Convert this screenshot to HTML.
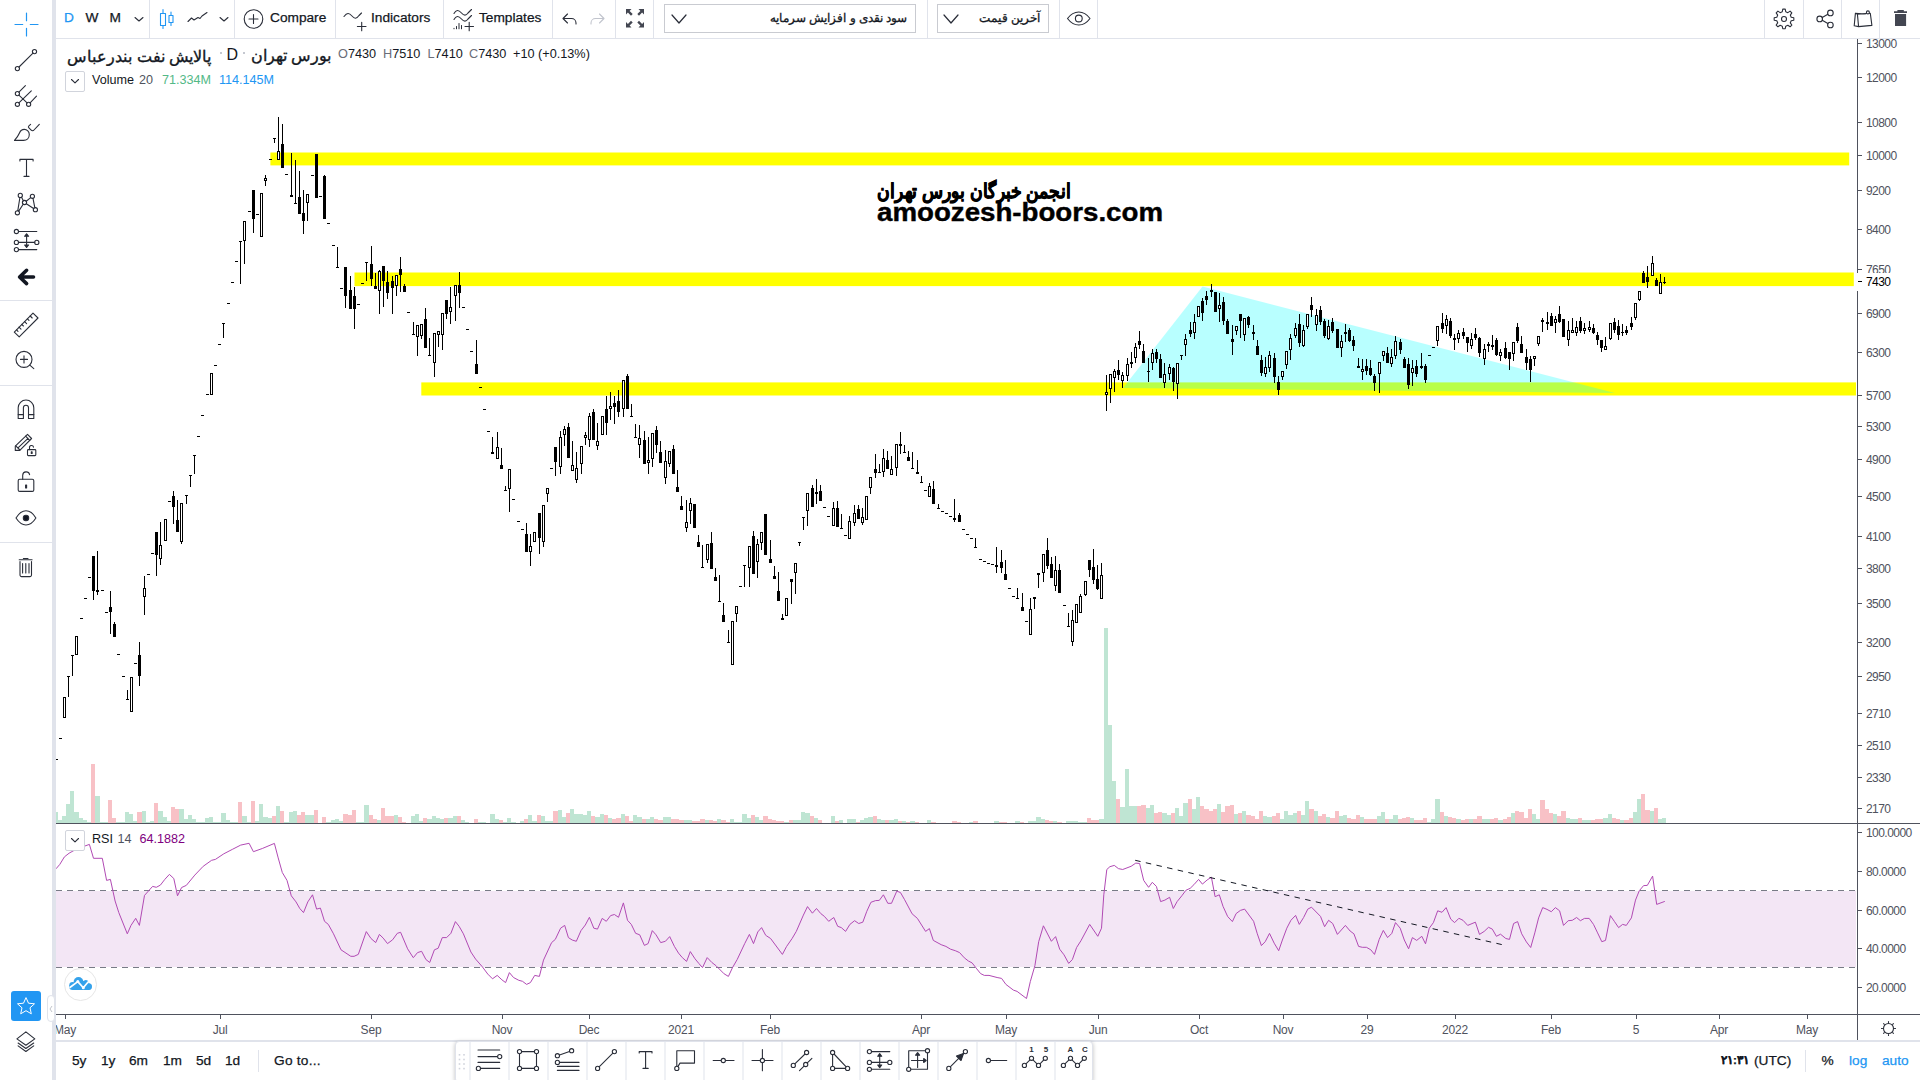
<!DOCTYPE html>
<html lang="en">
<head>
<meta charset="utf-8">
<title>Chart</title>
<style>
*{box-sizing:border-box;margin:0;padding:0}
html,body{width:1920px;height:1080px;overflow:hidden;background:#fff}
body{font-family:"Liberation Sans",sans-serif;color:#131722;position:relative}
.abs{position:absolute}
.t{position:absolute;white-space:nowrap;line-height:1}
#left{left:0;top:0;width:52px;height:1080px;background:#fff}
#ldiv{left:52px;top:0;width:4px;height:1080px;background:#e0e3eb}
#top{left:56px;top:0;width:1864px;height:38px;background:#fff}
#topb{left:56px;top:38px;width:1864px;height:1px;background:#e0e3eb}
.vsep{position:absolute;top:0;width:1px;height:38px;background:#e0e3eb}
.hsep{position:absolute;left:0;width:52px;height:1px;background:#e0e3eb}
.tb{font-size:13.7px;color:#131722;top:11.4px;-webkit-text-stroke:0.25px}
.lg{font-size:12.7px;color:#131722;top:48px}
.lg .k{color:#6a6d78}
.lg2{font-size:12.6px;color:#131722}
.sel{position:absolute;top:4px;height:29px;border:1px solid #c9cbd1;background:#fff}
.ax{font-size:12px;color:#4f525d;letter-spacing:-0.55px}
.ptick{position:absolute;left:1858px;width:4px;height:1px;background:#4f525d}
.ttick{position:absolute;top:1015px;width:1px;height:4px;background:#4f525d}
.tl{position:absolute;top:1024px;font-size:12px;color:#4f525d;transform:translateX(-50%);white-space:nowrap;line-height:1;letter-spacing:-0.2px}
.bt{font-size:13.7px;color:#131722;top:1054.2px;-webkit-text-stroke:0.25px}
svg{position:absolute;overflow:visible}
.ic{fill:none;stroke:#2a2e39;stroke-width:1.1;stroke-linecap:round;stroke-linejoin:round}
</style>
</head>
<body>
<!-- chart panes -->
<svg id="chart" class="abs" style="left:0;top:0" width="1920" height="1080" viewBox="0 0 1920 1080" shape-rendering="crispEdges">
<rect x="56" y="891" width="1800" height="76" fill="#f3e6f5"/>
<rect x="270.4" y="152.5" width="1578.8" height="12.9" fill="#ffff00" shape-rendering="geometricPrecision"/>
<rect x="354.5" y="272.5" width="1499.3" height="13.6" fill="#ffff00" shape-rendering="geometricPrecision"/>
<rect x="421.3" y="382.4" width="1434.7" height="13.1" fill="#ffff00" shape-rendering="geometricPrecision"/>
<polygon points="1202.5,286.5 1123,388 1615,393" fill="rgba(0,255,255,0.28)" shape-rendering="geometricPrecision"/>
<path d="M56 812h2v11h-2zM58 820h4v3h-4zM62 816h4v7h-4zM66 804h4v19h-4zM70 791h4v32h-4zM74 812h5v11h-5zM79 818h4v5h-4zM83 820h4v3h-4zM87 822h4v1h-4zM95 796h5v27h-5zM100 822h4v1h-4zM104 822h4v1h-4zM116 822h5v1h-5zM121 822h4v1h-4zM125 812h4v11h-4zM129 814h4v9h-4zM133 821h4v2h-4zM142 811h4v12h-4zM146 822h4v1h-4zM150 821h4v2h-4zM158 811h5v12h-5zM163 817h4v6h-4zM167 821h4v2h-4zM179 809h5v14h-5zM184 819h4v4h-4zM188 815h4v8h-4zM192 819h4v4h-4zM196 822h4v1h-4zM200 822h5v1h-5zM205 818h4v5h-4zM209 817h4v6h-4zM213 822h4v1h-4zM217 822h4v1h-4zM221 813h5v10h-5zM226 820h4v3h-4zM230 822h4v1h-4zM234 822h4v1h-4zM242 816h5v7h-5zM247 822h4v1h-4zM255 821h4v2h-4zM259 804h4v19h-4zM263 817h5v6h-5zM268 818h4v5h-4zM276 806h4v17h-4zM284 822h5v1h-5zM289 812h4v11h-4zM293 811h4v12h-4zM305 815h5v8h-5zM310 815h4v8h-4zM326 822h5v1h-5zM331 820h4v3h-4zM335 819h4v4h-4zM339 821h4v2h-4zM356 822h4v1h-4zM360 822h4v1h-4zM364 805h5v18h-5zM377 820h4v3h-4zM394 815h4v8h-4zM411 816h4v7h-4zM415 814h4v9h-4zM419 821h4v2h-4zM427 819h5v4h-5zM432 816h4v7h-4zM436 818h4v5h-4zM440 819h4v4h-4zM448 818h5v5h-5zM453 816h4v7h-4zM461 820h4v3h-4zM465 822h4v1h-4zM478 822h4v1h-4zM482 822h4v1h-4zM490 814h5v9h-5zM495 819h4v4h-4zM503 822h4v1h-4zM507 818h4v5h-4zM511 822h5v1h-5zM520 821h4v2h-4zM528 815h4v8h-4zM532 821h5v2h-5zM541 816h4v7h-4zM545 821h4v2h-4zM549 821h4v2h-4zM558 810h4v13h-4zM562 817h4v6h-4zM570 809h4v14h-4zM574 814h5v9h-5zM579 814h4v9h-4zM583 815h4v8h-4zM587 811h4v12h-4zM595 817h5v6h-5zM600 814h4v9h-4zM608 818h4v5h-4zM621 814h4v9h-4zM633 815h4v8h-4zM637 817h5v6h-5zM646 819h4v4h-4zM650 817h4v6h-4zM663 817h4v6h-4zM667 817h4v6h-4zM684 820h4v3h-4zM688 820h4v3h-4zM705 820h4v3h-4zM717 819h4v4h-4zM730 819h4v4h-4zM734 822h4v1h-4zM738 822h4v1h-4zM742 814h5v9h-5zM747 818h4v5h-4zM755 817h4v6h-4zM759 820h4v3h-4zM784 822h5v1h-5zM793 820h4v3h-4zM797 820h4v3h-4zM801 812h4v11h-4zM805 813h5v10h-5zM814 818h4v5h-4zM831 816h4v7h-4zM839 820h4v3h-4zM847 819h5v4h-5zM852 819h4v4h-4zM860 820h4v3h-4zM864 818h4v5h-4zM868 817h5v6h-5zM877 819h4v4h-4zM881 820h4v3h-4zM889 820h5v3h-5zM894 819h4v4h-4zM902 821h4v2h-4zM910 821h5v2h-5zM927 820h4v3h-4zM969 822h4v1h-4zM994 821h5v2h-5zM1015 821h5v2h-5zM1028 821h4v2h-4zM1032 821h4v2h-4zM1036 817h5v6h-5zM1041 819h4v4h-4zM1053 821h4v2h-4zM1066 821h4v2h-4zM1070 821h4v2h-4zM1074 821h4v2h-4zM1078 822h5v1h-5zM1083 822h4v1h-4zM1099 819h5v4h-5zM1104 628h4v195h-4zM1108 725h4v98h-4zM1112 781h4v42h-4zM1120 807h5v16h-5zM1125 769h4v54h-4zM1129 806h4v17h-4zM1133 806h4v17h-4zM1146 808h4v15h-4zM1150 805h4v18h-4zM1162 813h5v10h-5zM1167 815h4v8h-4zM1175 808h4v15h-4zM1179 816h4v7h-4zM1183 803h5v20h-5zM1192 809h4v14h-4zM1196 797h4v26h-4zM1217 804h4v19h-4zM1234 814h4v9h-4zM1242 811h4v12h-4zM1263 816h4v7h-4zM1267 817h5v6h-5zM1280 819h4v4h-4zM1284 811h4v12h-4zM1288 815h5v8h-5zM1293 813h4v10h-4zM1301 815h4v8h-4zM1305 801h4v22h-4zM1314 811h4v12h-4zM1326 817h4v6h-4zM1339 816h4v7h-4zM1343 815h4v8h-4zM1360 817h4v6h-4zM1377 816h4v7h-4zM1381 812h4v11h-4zM1389 819h4v4h-4zM1393 815h5v8h-5zM1410 818h4v5h-4zM1427 822h4v1h-4zM1431 819h4v4h-4zM1435 799h5v24h-5zM1444 816h4v7h-4zM1456 819h5v4h-5zM1469 819h4v4h-4zM1482 819h4v4h-4zM1486 819h4v4h-4zM1498 820h5v3h-5zM1511 813h4v10h-4zM1532 814h4v9h-4zM1536 819h4v4h-4zM1553 814h4v9h-4zM1566 818h4v5h-4zM1570 819h4v4h-4zM1574 819h4v4h-4zM1582 820h5v3h-5zM1587 820h4v3h-4zM1603 818h5v5h-5zM1608 814h4v9h-4zM1620 820h4v3h-4zM1633 812h4v11h-4zM1637 799h4v24h-4zM1650 811h4v12h-4zM1658 819h4v4h-4zM1662 818h4v5h-4z" fill="#bfe5d3"/>
<path d="M91 764h4v59h-4zM108 800h4v23h-4zM112 818h4v5h-4zM137 812h5v11h-5zM154 803h4v20h-4zM171 807h4v16h-4zM175 809h4v14h-4zM238 802h4v21h-4zM251 801h4v22h-4zM272 816h4v7h-4zM280 811h4v12h-4zM297 815h4v8h-4zM301 812h4v11h-4zM314 810h4v13h-4zM322 817h4v6h-4zM343 814h5v9h-5zM348 815h4v8h-4zM352 810h4v13h-4zM369 815h4v8h-4zM373 819h4v4h-4zM381 808h4v15h-4zM385 816h5v7h-5zM390 816h4v7h-4zM398 817h4v6h-4zM402 822h4v1h-4zM423 818h4v5h-4zM444 818h4v5h-4zM457 816h4v7h-4zM474 819h4v4h-4zM499 820h4v3h-4zM524 819h4v4h-4zM537 815h4v8h-4zM553 811h5v12h-5zM566 813h4v10h-4zM591 816h4v7h-4zM604 815h4v8h-4zM612 819h4v4h-4zM616 818h5v5h-5zM625 816h4v7h-4zM629 821h4v2h-4zM642 819h4v4h-4zM654 819h4v4h-4zM658 820h5v3h-5zM671 819h4v4h-4zM675 819h4v4h-4zM679 820h5v3h-5zM692 821h4v2h-4zM696 821h4v2h-4zM700 819h5v4h-5zM709 820h4v3h-4zM713 821h4v2h-4zM721 820h5v3h-5zM726 822h4v1h-4zM751 815h4v8h-4zM763 816h5v7h-5zM768 819h4v4h-4zM772 820h4v3h-4zM776 821h4v2h-4zM780 821h4v2h-4zM789 820h4v3h-4zM810 816h4v7h-4zM818 820h4v3h-4zM835 821h4v2h-4zM856 822h4v1h-4zM873 816h4v7h-4zM885 820h4v3h-4zM898 821h4v2h-4zM906 822h4v1h-4zM915 822h4v1h-4zM931 822h5v1h-5zM952 821h5v2h-5zM957 822h4v1h-4zM973 821h5v2h-5zM999 822h4v1h-4zM1003 822h4v1h-4zM1020 822h4v1h-4zM1045 820h4v3h-4zM1049 821h4v2h-4zM1057 822h5v1h-5zM1087 818h4v5h-4zM1091 820h4v3h-4zM1095 820h4v3h-4zM1116 799h4v24h-4zM1137 806h4v17h-4zM1141 805h5v18h-5zM1154 813h4v10h-4zM1158 812h4v11h-4zM1171 813h4v10h-4zM1188 799h4v24h-4zM1200 806h4v17h-4zM1204 809h5v14h-5zM1209 811h4v12h-4zM1213 809h4v14h-4zM1221 812h4v11h-4zM1225 806h5v17h-5zM1230 805h4v18h-4zM1238 813h4v10h-4zM1246 815h5v8h-5zM1251 816h4v7h-4zM1255 819h4v4h-4zM1259 811h4v12h-4zM1272 816h4v7h-4zM1276 813h4v10h-4zM1297 811h4v12h-4zM1309 809h5v14h-5zM1318 816h4v7h-4zM1322 814h4v9h-4zM1330 818h5v5h-5zM1335 811h4v12h-4zM1347 818h4v5h-4zM1351 819h5v4h-5zM1356 815h4v8h-4zM1364 819h4v4h-4zM1368 819h4v4h-4zM1372 819h5v4h-5zM1385 819h4v4h-4zM1398 819h4v4h-4zM1402 818h4v5h-4zM1406 817h4v6h-4zM1414 820h5v3h-5zM1419 820h4v3h-4zM1423 818h4v5h-4zM1440 812h4v11h-4zM1448 817h4v6h-4zM1452 818h4v5h-4zM1461 820h4v3h-4zM1465 819h4v4h-4zM1473 819h4v4h-4zM1477 816h5v7h-5zM1490 819h4v4h-4zM1494 818h4v5h-4zM1503 819h4v4h-4zM1507 817h4v6h-4zM1515 811h4v12h-4zM1519 812h5v11h-5zM1524 818h4v5h-4zM1528 809h4v14h-4zM1540 800h5v23h-5zM1545 809h4v14h-4zM1549 813h4v10h-4zM1557 816h4v7h-4zM1561 811h5v12h-5zM1578 818h4v5h-4zM1591 820h4v3h-4zM1595 819h4v4h-4zM1599 819h4v4h-4zM1612 818h4v5h-4zM1616 819h4v4h-4zM1624 820h5v3h-5zM1629 818h4v5h-4zM1641 794h4v29h-4zM1645 810h5v13h-5zM1654 808h4v15h-4z" fill="#f8c1c6"/>
<path d="M55 759h3v1h-3zM59 738h3v1h-3zM64 697h1v21h-1zM63 697h3v21h-3zM68 676h1v21h-1zM67 676h3v1h-3zM72 655h1v21h-1zM71 655h3v1h-3zM76 636h1v19h-1zM75 636h3v19h-3zM80 618h3v1h-3zM84 598h3v1h-3zM88 577h3v1h-3zM93 556h1v44h-1zM92 556h3v35h-3zM97 551h1v44h-1zM96 590h3v2h-3zM101 590h3v1h-3zM105 612h3v1h-3zM110 591h1v43h-1zM109 607h3v5h-3zM114 622h1v15h-1zM113 624h3v13h-3zM117 654h3v1h-3zM122 676h3v1h-3zM127 690h1v9h-1zM126 699h3v1h-3zM131 677h1v35h-1zM130 677h3v35h-3zM134 663h3v1h-3zM139 642h1v44h-1zM138 655h3v21h-3zM144 576h1v39h-1zM143 588h3v9h-3zM147 574h3v1h-3zM151 553h3v1h-3zM156 532h1v44h-1zM155 532h3v23h-3zM160 522h1v43h-1zM159 545h3v14h-3zM165 519h1v22h-1zM164 519h3v22h-3zM168 501h3v1h-3zM173 491h1v33h-1zM172 496h3v11h-3zM177 500h1v32h-1zM176 520h3v12h-3zM181 503h1v41h-1zM180 503h3v39h-3zM186 495h1v9h-1zM185 495h3v1h-3zM190 475h1v12h-1zM189 475h3v1h-3zM194 455h1v19h-1zM193 455h3v1h-3zM197 436h3v1h-3zM201 415h3v1h-3zM206 394h3v1h-3zM211 373h1v22h-1zM210 373h3v22h-3zM214 365h3v1h-3zM218 344h3v1h-3zM223 323h1v15h-1zM222 323h3v1h-3zM227 303h3v1h-3zM231 282h3v1h-3zM235 261h3v1h-3zM240 241h1v43h-1zM239 241h3v1h-3zM244 221h1v43h-1zM243 221h3v20h-3zM248 211h3v1h-3zM253 190h1v43h-1zM252 190h3v29h-3zM256 214h3v1h-3zM261 193h1v44h-1zM260 193h3v44h-3zM265 175h1v11h-1zM264 178h3v3h-3zM269 159h3v1h-3zM274 138h1v5h-1zM273 138h3v1h-3zM278 117h1v43h-1zM277 151h3v9h-3zM282 124h1v44h-1zM281 144h3v24h-3zM285 174h3v1h-3zM291 153h1v44h-1zM290 195h3v2h-3zM295 160h1v43h-1zM294 203h3v1h-3zM299 171h1v43h-1zM298 197h3v17h-3zM303 190h1v44h-1zM302 213h3v8h-3zM307 194h1v27h-1zM306 194h3v9h-3zM311 175h3v1h-3zM316 154h1v44h-1zM315 154h3v44h-3zM319 196h3v1h-3zM324 175h1v44h-1zM323 176h3v43h-3zM327 223h3v1h-3zM332 245h3v1h-3zM337 247h1v20h-1zM336 267h3v1h-3zM340 288h3v1h-3zM345 267h1v41h-1zM344 267h3v29h-3zM350 276h1v33h-1zM349 290h3v19h-3zM354 287h1v42h-1zM353 296h3v13h-3zM357 304h3v1h-3zM361 283h3v1h-3zM366 262h1v19h-1zM365 262h3v1h-3zM371 246h1v40h-1zM370 264h3v15h-3zM375 273h1v16h-1zM374 286h3v3h-3zM379 270h1v44h-1zM378 271h3v20h-3zM383 266h1v41h-1zM382 266h3v15h-3zM387 271h1v28h-1zM386 282h3v11h-3zM392 276h1v38h-1zM391 281h3v7h-3zM396 275h1v21h-1zM395 275h3v11h-3zM400 257h1v35h-1zM399 269h3v6h-3zM404 284h1v8h-1zM403 286h3v6h-3zM407 312h3v1h-3zM413 322h1v12h-1zM412 334h3v1h-3zM417 325h1v31h-1zM416 325h3v12h-3zM421 324h1v15h-1zM420 324h3v12h-3zM425 308h1v40h-1zM424 319h3v29h-3zM429 338h1v17h-1zM428 355h3v1h-3zM434 333h1v44h-1zM433 333h3v30h-3zM438 331h1v16h-1zM437 331h3v4h-3zM442 313h1v37h-1zM441 313h3v22h-3zM446 300h1v19h-1zM445 300h3v14h-3zM450 287h1v37h-1zM449 307h3v5h-3zM455 285h1v36h-1zM454 285h3v11h-3zM459 272h1v36h-1zM458 285h3v8h-3zM462 307h3v1h-3zM466 329h3v1h-3zM470 351h3v1h-3zM476 340h1v34h-1zM475 364h3v10h-3zM479 387h3v1h-3zM483 409h3v1h-3zM487 431h3v1h-3zM492 437h1v17h-1zM491 452h3v2h-3zM497 432h1v27h-1zM496 447h3v12h-3zM501 448h1v21h-1zM500 465h3v4h-3zM505 486h1v4h-1zM504 490h3v1h-3zM509 469h1v43h-1zM508 469h3v20h-3zM512 499h3v1h-3zM517 521h3v1h-3zM521 529h3v1h-3zM526 523h1v29h-1zM525 534h3v18h-3zM530 534h1v32h-1zM529 546h3v6h-3zM534 532h1v10h-1zM533 532h3v10h-3zM539 513h1v41h-1zM538 513h3v25h-3zM543 505h1v42h-1zM542 505h3v37h-3zM547 488h1v14h-1zM546 488h3v6h-3zM550 468h3v1h-3zM555 447h1v29h-1zM554 447h3v15h-3zM560 431h1v43h-1zM559 437h3v30h-3zM564 426h1v20h-1zM563 429h3v6h-3zM568 423h1v35h-1zM567 427h3v31h-3zM572 441h1v30h-1zM571 465h3v6h-3zM576 452h1v31h-1zM575 468h3v12h-3zM581 446h1v28h-1zM580 446h3v18h-3zM585 432h1v13h-1zM584 435h3v3h-3zM589 413h1v34h-1zM588 416h3v24h-3zM593 409h1v31h-1zM592 412h3v28h-3zM597 423h1v27h-1zM596 441h3v5h-3zM602 416h1v19h-1zM601 416h3v19h-3zM606 396h1v39h-1zM605 409h3v14h-3zM610 392h1v28h-1zM609 406h3v3h-3zM614 396h1v28h-1zM613 403h3v4h-3zM618 390h1v27h-1zM617 401h3v11h-3zM623 380h1v37h-1zM622 380h3v29h-3zM627 374h1v35h-1zM626 376h3v33h-3zM631 404h1v12h-1zM630 416h3v1h-3zM635 424h1v13h-1zM634 437h3v1h-3zM639 425h1v33h-1zM638 438h3v7h-3zM644 431h1v33h-1zM643 440h3v24h-3zM648 437h1v37h-1zM647 460h3v3h-3zM652 433h1v34h-1zM651 433h3v26h-3zM656 426h1v27h-1zM655 430h3v15h-3zM660 441h1v22h-1zM659 452h3v11h-3zM665 450h1v34h-1zM664 461h3v17h-3zM669 451h1v16h-1zM668 451h3v13h-3zM673 445h1v29h-1zM672 449h3v25h-3zM677 470h1v22h-1zM676 487h3v5h-3zM681 496h1v14h-1zM680 506h3v4h-3zM686 500h1v32h-1zM685 522h3v6h-3zM690 498h1v26h-1zM689 503h3v8h-3zM694 504h1v24h-1zM693 504h3v24h-3zM698 535h1v12h-1zM697 542h3v5h-3zM702 545h1v22h-1zM701 567h3v1h-3zM707 544h1v19h-1zM706 544h3v16h-3zM711 532h1v37h-1zM710 543h3v26h-3zM715 568h1v13h-1zM714 577h3v4h-3zM719 575h1v26h-1zM718 601h3v1h-3zM723 603h1v19h-1zM722 615h3v7h-3zM728 630h1v12h-1zM727 642h3v1h-3zM732 621h1v44h-1zM731 621h3v44h-3zM736 606h1v16h-1zM735 606h3v8h-3zM739 586h3v1h-3zM744 565h1v22h-1zM743 565h3v1h-3zM749 546h1v41h-1zM748 546h3v22h-3zM753 531h1v43h-1zM752 536h3v38h-3zM757 539h1v39h-1zM756 544h3v18h-3zM761 532h1v18h-1zM760 532h3v11h-3zM765 514h1v41h-1zM764 514h3v41h-3zM770 540h1v23h-1zM769 559h3v4h-3zM774 566h1v13h-1zM773 576h3v3h-3zM778 572h1v29h-1zM777 591h3v10h-3zM782 614h1v6h-1zM781 618h3v2h-3zM786 598h1v18h-1zM785 598h3v18h-3zM791 579h1v25h-1zM790 579h3v3h-3zM795 563h1v31h-1zM794 563h3v10h-3zM799 542h1v4h-1zM798 542h3v1h-3zM803 517h1v13h-1zM802 517h3v1h-3zM807 493h1v33h-1zM806 493h3v18h-3zM812 485h1v22h-1zM811 488h3v19h-3zM816 479h1v25h-1zM815 492h3v2h-3zM820 485h1v16h-1zM819 491h3v10h-3zM823 507h3v1h-3zM827 516h3v1h-3zM833 502h1v24h-1zM832 508h3v18h-3zM837 501h1v26h-1zM836 508h3v19h-3zM841 514h1v14h-1zM840 528h3v1h-3zM844 535h3v1h-3zM849 516h1v23h-1zM848 521h3v18h-3zM854 505h1v21h-1zM853 513h3v10h-3zM858 505h1v14h-1zM857 509h3v10h-3zM862 508h1v17h-1zM861 517h3v6h-3zM866 496h1v24h-1zM865 496h3v24h-3zM870 477h1v17h-1zM869 477h3v11h-3zM875 454h1v24h-1zM874 469h3v4h-3zM879 464h1v8h-1zM878 472h3v1h-3zM883 449h1v28h-1zM882 458h3v14h-3zM887 451h1v18h-1zM886 460h3v9h-3zM891 456h1v19h-1zM890 469h3v6h-3zM896 444h1v32h-1zM895 444h3v24h-3zM900 432h1v22h-1zM899 444h3v2h-3zM904 445h1v7h-1zM903 452h3v1h-3zM908 451h1v10h-1zM907 457h3v4h-3zM912 452h1v16h-1zM911 468h3v1h-3zM917 460h1v14h-1zM916 472h3v2h-3zM921 476h1v6h-1zM920 482h3v1h-3zM924 490h3v1h-3zM929 483h1v14h-1zM928 486h3v11h-3zM933 481h1v23h-1zM932 489h3v15h-3zM938 504h1v4h-1zM937 508h3v1h-3zM941 511h3v1h-3zM945 513h3v1h-3zM949 516h3v1h-3zM954 499h1v23h-1zM953 518h3v2h-3zM959 513h1v9h-1zM958 515h3v7h-3zM962 529h3v1h-3zM966 534h3v1h-3zM970 538h3v1h-3zM975 538h1v9h-1zM974 547h3v1h-3zM979 559h3v1h-3zM983 561h3v1h-3zM987 563h3v1h-3zM991 564h3v1h-3zM996 547h1v26h-1zM995 565h3v2h-3zM1001 550h1v23h-1zM1000 562h3v6h-3zM1005 560h1v20h-1zM1004 574h3v6h-3zM1008 588h3v1h-3zM1012 596h3v1h-3zM1017 588h1v10h-1zM1016 598h3v1h-3zM1022 593h1v18h-1zM1021 607h3v4h-3zM1025 621h3v1h-3zM1030 598h1v37h-1zM1029 609h3v26h-3zM1034 597h1v12h-1zM1033 597h3v2h-3zM1038 573h1v15h-1zM1037 573h3v2h-3zM1043 554h1v28h-1zM1042 554h3v19h-3zM1047 538h1v31h-1zM1046 550h3v16h-3zM1051 557h1v21h-1zM1050 564h3v14h-3zM1055 556h1v35h-1zM1054 570h3v16h-3zM1059 564h1v29h-1zM1058 570h3v23h-3zM1063 605h3v1h-3zM1068 613h1v13h-1zM1067 626h3v1h-3zM1072 610h1v36h-1zM1071 620h3v22h-3zM1076 604h1v19h-1zM1075 604h3v19h-3zM1080 594h1v19h-1zM1079 596h3v17h-3zM1085 581h1v15h-1zM1084 581h3v14h-3zM1089 560h1v17h-1zM1088 560h3v10h-3zM1093 549h1v35h-1zM1092 567h3v13h-3zM1097 565h1v25h-1zM1096 579h3v10h-3zM1101 563h1v36h-1zM1100 575h3v24h-3zM1106 375h1v36h-1zM1105 392h3v3h-3zM1110 374h1v29h-1zM1109 374h3v15h-3zM1114 369h1v23h-1zM1113 371h3v7h-3zM1118 360h1v20h-1zM1117 370h3v5h-3zM1122 372h1v16h-1zM1121 375h3v6h-3zM1127 358h1v23h-1zM1126 364h3v12h-3zM1131 352h1v16h-1zM1130 362h3v2h-3zM1135 343h1v20h-1zM1134 347h3v11h-3zM1139 331h1v18h-1zM1138 341h3v4h-3zM1143 344h1v19h-1zM1142 351h3v12h-3zM1148 358h1v24h-1zM1147 371h3v1h-3zM1152 349h1v21h-1zM1151 353h3v10h-3zM1156 349h1v14h-1zM1155 352h3v7h-3zM1160 354h1v24h-1zM1159 359h3v19h-3zM1164 363h1v25h-1zM1163 374h3v9h-3zM1169 364h1v16h-1zM1168 367h3v7h-3zM1173 367h1v24h-1zM1172 368h3v14h-3zM1177 363h1v36h-1zM1176 363h3v21h-3zM1181 355h1v5h-1zM1180 355h3v1h-3zM1185 334h1v22h-1zM1184 339h3v6h-3zM1190 322h1v15h-1zM1189 330h3v4h-3zM1194 314h1v25h-1zM1193 322h3v11h-3zM1198 306h1v11h-1zM1197 306h3v11h-3zM1202 298h1v23h-1zM1201 301h3v12h-3zM1206 291h1v14h-1zM1205 296h3v4h-3zM1211 284h1v13h-1zM1210 290h3v2h-3zM1215 292h1v20h-1zM1214 292h3v20h-3zM1219 293h1v29h-1zM1218 305h3v4h-3zM1223 297h1v28h-1zM1222 302h3v19h-3zM1227 319h1v15h-1zM1226 321h3v13h-3zM1232 325h1v30h-1zM1231 339h3v3h-3zM1236 326h1v9h-1zM1235 326h3v5h-3zM1240 314h1v24h-1zM1239 314h3v7h-3zM1244 318h1v23h-1zM1243 318h3v17h-3zM1248 316h1v12h-1zM1247 317h3v8h-3zM1253 325h1v15h-1zM1252 332h3v2h-3zM1257 340h1v15h-1zM1256 346h3v9h-3zM1261 355h1v21h-1zM1260 360h3v13h-3zM1265 357h1v20h-1zM1264 367h3v7h-3zM1269 351h1v21h-1zM1268 355h3v13h-3zM1274 353h1v30h-1zM1273 358h3v19h-3zM1278 376h1v19h-1zM1277 382h3v8h-3zM1282 371h1v9h-1zM1281 371h3v6h-3zM1286 351h1v18h-1zM1285 351h3v14h-3zM1290 334h1v26h-1zM1289 338h3v12h-3zM1295 323h1v15h-1zM1294 328h3v8h-3zM1299 314h1v33h-1zM1298 324h3v19h-3zM1303 325h1v22h-1zM1302 330h3v16h-3zM1307 314h1v15h-1zM1306 314h3v13h-3zM1311 297h1v20h-1zM1310 305h3v5h-3zM1316 309h1v22h-1zM1315 315h3v10h-3zM1320 306h1v19h-1zM1319 310h3v12h-3zM1324 319h1v19h-1zM1323 321h3v15h-3zM1328 320h1v20h-1zM1327 326h3v13h-3zM1332 318h1v15h-1zM1331 322h3v9h-3zM1337 329h1v19h-1zM1336 329h3v19h-3zM1341 335h1v22h-1zM1340 341h3v7h-3zM1345 324h1v18h-1zM1344 332h3v2h-3zM1349 328h1v14h-1zM1348 330h3v11h-3zM1353 336h1v15h-1zM1352 340h3v6h-3zM1358 358h1v10h-1zM1357 366h3v2h-3zM1362 359h1v21h-1zM1361 369h3v3h-3zM1366 359h1v16h-1zM1365 366h3v5h-3zM1370 360h1v16h-1zM1369 368h3v7h-3zM1374 374h1v17h-1zM1373 376h3v7h-3zM1379 362h1v31h-1zM1378 362h3v12h-3zM1383 351h1v10h-1zM1382 351h3v5h-3zM1387 347h1v16h-1zM1386 353h3v10h-3zM1391 349h1v18h-1zM1390 357h3v7h-3zM1395 336h1v23h-1zM1394 341h3v15h-3zM1400 339h1v15h-1zM1399 342h3v8h-3zM1404 357h1v11h-1zM1403 359h3v9h-3zM1408 358h1v31h-1zM1407 364h3v21h-3zM1412 360h1v26h-1zM1411 368h3v5h-3zM1416 360h1v17h-1zM1415 366h3v8h-3zM1421 353h1v16h-1zM1420 366h3v2h-3zM1425 364h1v19h-1zM1424 366h3v14h-3zM1428 355h3v1h-3zM1432 347h3v1h-3zM1437 326h1v20h-1zM1436 326h3v15h-3zM1442 313h1v20h-1zM1441 323h3v6h-3zM1446 315h1v19h-1zM1445 319h3v7h-3zM1450 318h1v20h-1zM1449 321h3v15h-3zM1454 334h1v16h-1zM1453 338h3v2h-3zM1458 330h1v13h-1zM1457 333h3v6h-3zM1463 328h1v11h-1zM1462 332h3v4h-3zM1467 337h1v15h-1zM1466 337h3v6h-3zM1471 333h1v16h-1zM1470 339h3v7h-3zM1475 328h1v12h-1zM1474 334h3v4h-3zM1479 337h1v20h-1zM1478 338h3v15h-3zM1484 344h1v21h-1zM1483 349h3v10h-3zM1488 342h1v10h-1zM1487 344h3v2h-3zM1492 335h1v15h-1zM1491 345h3v2h-3zM1496 338h1v18h-1zM1495 340h3v15h-3zM1500 349h1v12h-1zM1499 352h3v4h-3zM1505 342h1v17h-1zM1504 348h3v10h-3zM1509 352h1v18h-1zM1508 352h3v7h-3zM1513 342h1v19h-1zM1512 342h3v12h-3zM1517 323h1v20h-1zM1516 327h3v14h-3zM1521 336h1v17h-1zM1520 344h3v9h-3zM1526 349h1v21h-1zM1525 357h3v6h-3zM1530 356h1v26h-1zM1529 359h3v11h-3zM1534 356h1v10h-1zM1533 356h3v3h-3zM1538 336h1v10h-1zM1537 336h3v8h-3zM1542 318h1v14h-1zM1541 320h3v2h-3zM1547 312h1v18h-1zM1546 322h3v2h-3zM1551 313h1v13h-1zM1550 316h3v10h-3zM1555 316h1v17h-1zM1554 319h3v4h-3zM1559 306h1v17h-1zM1558 314h3v8h-3zM1563 319h1v18h-1zM1562 319h3v18h-3zM1568 321h1v25h-1zM1567 330h3v10h-3zM1572 318h1v15h-1zM1571 330h3v3h-3zM1576 321h1v15h-1zM1575 327h3v6h-3zM1580 317h1v16h-1zM1579 321h3v10h-3zM1584 323h1v11h-1zM1583 328h3v3h-3zM1589 321h1v11h-1zM1588 327h3v3h-3zM1593 324h1v10h-1zM1592 328h3v5h-3zM1597 332h1v13h-1zM1596 335h3v5h-3zM1601 340h1v12h-1zM1600 340h3v8h-3zM1605 337h1v13h-1zM1604 346h3v4h-3zM1610 323h1v17h-1zM1609 323h3v16h-3zM1614 318h1v15h-1zM1613 322h3v8h-3zM1618 320h1v20h-1zM1617 326h3v9h-3zM1622 324h1v12h-1zM1621 332h3v1h-3zM1626 326h1v9h-1zM1625 330h3v3h-3zM1631 317h1v13h-1zM1630 323h3v4h-3zM1635 303h1v17h-1zM1634 303h3v15h-3zM1639 291h1v10h-1zM1638 291h3v9h-3zM1643 271h1v12h-1zM1642 273h3v10h-3zM1647 266h1v22h-1zM1646 277h3v5h-3zM1652 256h1v20h-1zM1651 263h3v13h-3zM1656 278h1v8h-1zM1655 280h3v6h-3zM1660 274h1v20h-1zM1659 282h3v12h-3zM1664 277h1v7h-1zM1663 282h3v1h-3z" fill="#000"/>
<path d="M64 698h1v19h-1zM76 637h1v17h-1zM131 678h1v33h-1zM144 589h1v7h-1zM160 546h1v12h-1zM165 520h1v20h-1zM181 504h1v37h-1zM211 374h1v20h-1zM244 222h1v18h-1zM261 194h1v42h-1zM265 179h1v1h-1zM278 152h1v7h-1zM307 195h1v7h-1zM379 272h1v18h-1zM396 276h1v9h-1zM417 326h1v10h-1zM421 325h1v10h-1zM434 334h1v28h-1zM438 332h1v2h-1zM442 314h1v20h-1zM450 308h1v3h-1zM455 286h1v9h-1zM497 448h1v10h-1zM509 470h1v18h-1zM530 547h1v4h-1zM534 533h1v8h-1zM543 506h1v35h-1zM547 489h1v4h-1zM560 438h1v28h-1zM564 430h1v4h-1zM572 466h1v4h-1zM576 469h1v10h-1zM581 447h1v16h-1zM585 436h1v1h-1zM589 417h1v22h-1zM597 442h1v3h-1zM602 417h1v17h-1zM610 407h1v1h-1zM623 381h1v27h-1zM639 439h1v5h-1zM648 461h1v1h-1zM652 434h1v24h-1zM665 462h1v15h-1zM669 452h1v11h-1zM686 523h1v4h-1zM690 504h1v6h-1zM707 545h1v14h-1zM732 622h1v42h-1zM736 607h1v6h-1zM749 547h1v20h-1zM757 545h1v16h-1zM761 533h1v9h-1zM786 599h1v16h-1zM795 564h1v8h-1zM807 494h1v16h-1zM833 509h1v16h-1zM849 522h1v16h-1zM854 514h1v8h-1zM862 518h1v4h-1zM866 497h1v22h-1zM870 478h1v9h-1zM883 459h1v12h-1zM891 470h1v4h-1zM896 445h1v22h-1zM929 487h1v9h-1zM1030 610h1v24h-1zM1043 555h1v17h-1zM1055 571h1v14h-1zM1072 621h1v20h-1zM1076 605h1v17h-1zM1080 597h1v15h-1zM1085 582h1v12h-1zM1101 576h1v22h-1zM1106 393h1v1h-1zM1110 375h1v13h-1zM1114 372h1v5h-1zM1122 376h1v4h-1zM1127 365h1v10h-1zM1135 348h1v9h-1zM1152 354h1v8h-1zM1164 375h1v7h-1zM1169 368h1v5h-1zM1177 364h1v19h-1zM1185 340h1v4h-1zM1194 323h1v9h-1zM1198 307h1v9h-1zM1219 306h1v2h-1zM1236 327h1v3h-1zM1244 319h1v15h-1zM1265 368h1v5h-1zM1269 356h1v11h-1zM1282 372h1v4h-1zM1286 352h1v12h-1zM1290 339h1v10h-1zM1295 329h1v6h-1zM1303 331h1v14h-1zM1307 315h1v11h-1zM1316 316h1v8h-1zM1328 327h1v11h-1zM1341 342h1v5h-1zM1362 370h1v1h-1zM1379 363h1v10h-1zM1383 352h1v3h-1zM1391 358h1v5h-1zM1395 342h1v13h-1zM1412 369h1v3h-1zM1437 327h1v13h-1zM1446 320h1v5h-1zM1458 334h1v4h-1zM1471 340h1v5h-1zM1484 350h1v8h-1zM1500 353h1v2h-1zM1513 343h1v10h-1zM1534 357h1v1h-1zM1538 337h1v6h-1zM1555 320h1v2h-1zM1568 331h1v8h-1zM1572 331h1v1h-1zM1576 328h1v4h-1zM1584 329h1v1h-1zM1589 328h1v1h-1zM1605 347h1v2h-1zM1610 324h1v14h-1zM1635 304h1v13h-1zM1639 292h1v7h-1zM1652 264h1v11h-1zM1660 283h1v10h-1z" fill="#fff"/>
<line x1="56" y1="890.5" x2="1856" y2="890.5" stroke="#787b86" stroke-width="1" stroke-dasharray="6 5"/>
<line x1="56" y1="967.5" x2="1856" y2="967.5" stroke="#787b86" stroke-width="1" stroke-dasharray="6 5"/>
<path d="M56.0 868.8L59.8 864.4L64.4 856.9L69.1 853.2L74.8 850.0L84.1 846.3L89.4 844.4L93.5 858.3L102.3 858.3L106.6 880.4L110.4 879.4L115.1 901.0L118.8 912.6L127.3 933.8L131.0 925.4L135.7 918.3L139.4 925.4L144.5 895.4L152.6 886.4L156.3 887.3L160.4 885.1L164.8 879.4L169.4 874.4L173.8 878.5L177.5 895.8L181.6 887.5L186.3 885.4L194.8 875.1L203.2 866.3L211.6 860.3L215.4 859.4L223.8 853.8L232.3 849.4L240.7 845.1L249.1 843.3L253.4 851.7L262.3 848.5L274.4 843.4L278.2 857.9L282.3 872.5L287.0 880.4L291.3 895.8L296.0 901.9L299.8 908.5L303.5 912.6L307.8 901.9L312.5 894.8L316.6 909.1L320.4 908.1L324.5 921.3L328.3 924.4L333.5 933.8L341.0 949.8L350.8 956.3L354.1 956.3L358.3 954.4L366.3 931.6L371.0 938.5L375.7 942.6L379.4 934.4L383.2 938.1L387.5 943.6L392.6 939.8L397.3 933.3L400.6 932.3L407.6 948.8L413.2 957.6L413.4 957.6L417.5 952.6L421.6 951.3L425.9 959.5L429.7 962.5L434.4 949.8L438.1 948.3L442.3 937.6L446.6 937.6L450.9 933.3L455.4 921.6L459.1 926.3L463.4 933.8L470.9 952.0L475.6 959.1L482.2 966.6L487.8 974.1L492.5 978.8L497.2 975.4L501.9 979.8L505.6 982.6L509.4 972.6L513.5 977.5L518.8 980.3L522.5 981.3L526.6 984.4L530.4 982.6L534.7 975.4L539.4 976.4L543.5 960.1L551.6 942.6L555.3 939.4L560.6 928.2L564.7 925.4L568.4 937.6L572.2 940.0L576.3 941.3L581.0 930.6L585.3 925.0L589.4 917.3L593.8 928.2L597.5 929.1L602.2 918.4L606.3 921.3L610.6 915.6L614.4 914.5L618.5 917.3L623.4 902.9L627.5 920.3L631.3 924.4L635.6 933.3L639.7 934.8L644.4 945.4L648.1 943.6L652.3 930.6L656.0 934.8L660.7 942.6L665.4 941.3L669.7 936.6L674.4 946.4L678.5 953.1L682.3 957.6L686.6 961.4L690.3 951.6L695.0 958.8L698.8 963.4L702.5 967.6L707.2 957.6L711.9 962.5L716.0 965.7L724.1 973.8L728.4 976.4L732.5 967.6L737.2 959.5L744.7 943.6L749.4 934.4L753.5 943.6L757.8 931.9L761.6 927.6L765.7 935.3L766.3 935.7L770.6 938.5L782.4 954.4L786.5 946.6L792.1 938.5L796.3 931.4L803.4 915.1L807.5 906.6L812.4 913.2L816.5 908.5L820.8 913.6L824.4 916.4L828.7 921.3L833.8 917.5L837.7 926.3L841.3 927.6L845.6 931.4L849.9 924.4L854.6 920.7L858.7 923.5L862.8 922.2L866.8 911.3L870.9 902.3L875.6 900.6L879.3 900.4L883.4 894.8L887.8 903.3L891.5 903.3L896.8 891.1L900.5 892.6L904.6 899.7L912.1 913.8L917.4 918.4L925.6 931.4L929.4 928.6L933.3 940.4L941.2 944.7L945.9 946.4L950.6 949.2L955.3 950.7L959.6 952.6L964.3 957.8L968.4 961.0L972.1 962.9L976.8 968.9L980.6 973.6L984.3 975.4L989.0 975.4L997.1 977.5L1001.6 978.4L1005.9 984.4L1013.4 990.1L1017.1 991.4L1026.5 998.5L1030.3 981.6L1034.9 965.7L1038.7 941.7L1043.4 925.8L1051.4 941.3L1055.6 936.6L1059.7 949.2L1064.0 954.8L1068.7 963.4L1072.4 959.5L1076.6 947.5L1080.9 940.8L1089.7 924.4L1097.8 936.3L1101.5 928.2L1103.8 894.8L1106.8 869.5L1109.9 866.7L1114.3 865.4L1118.4 868.6L1122.7 869.5L1131.1 866.3L1135.8 863.1L1139.6 863.5L1143.7 880.4L1148.6 887.3L1152.3 882.3L1156.4 886.4L1160.6 901.6L1164.9 900.1L1169.6 897.3L1173.3 908.5L1177.1 901.6L1181.8 895.8L1185.9 890.3L1190.2 888.3L1193.9 884.7L1198.6 879.4L1202.4 884.1L1207.1 880.0L1211.4 877.2L1215.1 896.7L1219.3 894.8L1223.0 906.3L1227.7 916.6L1232.4 921.6L1236.1 913.6L1240.4 910.4L1244.6 909.1L1253.6 921.3L1257.3 933.8L1261.4 945.6L1265.2 941.7L1269.5 933.4L1274.2 943.2L1278.7 950.7L1282.4 940.0L1286.8 928.2L1290.9 920.3L1295.6 915.4L1299.3 924.4L1303.6 917.5L1307.8 909.1L1311.5 907.2L1320.5 916.4L1324.6 926.7L1328.6 920.3L1332.7 923.5L1337.4 934.4L1345.4 925.4L1350.1 931.0L1353.9 933.8L1358.6 946.4L1362.3 947.3L1366.4 947.3L1370.8 949.8L1374.5 954.4L1379.2 939.4L1383.3 930.4L1387.6 937.6L1391.8 933.4L1395.5 922.6L1400.2 928.2L1404.3 940.0L1408.6 948.8L1412.4 937.6L1416.7 940.4L1421.8 936.3L1425.5 943.8L1429.3 928.2L1433.4 922.6L1437.7 910.8L1442.0 912.3L1446.1 907.6L1450.8 919.2L1454.6 922.6L1458.9 918.3L1463.0 920.3L1467.7 925.4L1475.4 922.2L1479.5 934.4L1484.2 931.4L1488.5 927.3L1492.3 929.1L1496.4 936.3L1500.5 934.2L1505.8 938.5L1509.5 939.4L1513.6 923.5L1517.6 921.6L1521.7 933.8L1526.4 941.9L1530.7 947.5L1534.8 932.9L1538.6 917.9L1542.7 907.6L1547.0 909.4L1551.3 911.7L1555.4 907.6L1559.6 910.8L1563.5 925.4L1568.2 920.7L1572.3 920.3L1576.6 917.5L1580.4 920.7L1584.5 918.4L1589.2 918.4L1593.5 924.4L1597.6 932.9L1601.8 941.7L1605.5 940.4L1610.4 915.6L1614.5 921.6L1618.6 927.6L1622.6 924.4L1626.3 925.4L1631.4 917.9L1635.5 900.1L1639.3 890.7L1643.6 885.6L1647.3 885.4L1652.6 876.1L1656.7 904.4L1664.8 901.4" fill="none" stroke="#b14ab4" stroke-width="1" stroke-linejoin="round" shape-rendering="geometricPrecision"/>
<line x1="1135.2" y1="860.3" x2="1505.4" y2="945.4" stroke="#131722" stroke-width="1" stroke-dasharray="5.5 5.4" shape-rendering="geometricPrecision"/>
</svg>
<!-- axes lines -->
<div class="abs" style="left:1857px;top:39px;width:1px;height:1002px;background:#4f525d"></div>
<div class="abs" style="left:56px;top:823px;width:1864px;height:1px;background:#4f525d"></div>
<div class="abs" style="left:56px;top:1014px;width:1864px;height:1px;background:#4f525d"></div>
<div class="abs" style="left:56px;top:1040px;width:1864px;height:2px;background:#e0e3eb"></div>
<div class="ptick" style="top:43px"></div>
<div class="t ax" style="left:1866px;top:38px">13000</div>
<div class="ptick" style="top:77px"></div>
<div class="t ax" style="left:1866px;top:72px">12000</div>
<div class="ptick" style="top:122px"></div>
<div class="t ax" style="left:1866px;top:117px">10800</div>
<div class="ptick" style="top:155px"></div>
<div class="t ax" style="left:1866px;top:150px">10000</div>
<div class="ptick" style="top:190px"></div>
<div class="t ax" style="left:1866px;top:185px">9200</div>
<div class="ptick" style="top:229px"></div>
<div class="t ax" style="left:1866px;top:224px">8400</div>
<div class="ptick" style="top:269px"></div>
<div class="t ax" style="left:1866px;top:264px">7650</div>
<div class="ptick" style="top:313px"></div>
<div class="t ax" style="left:1866px;top:308px">6900</div>
<div class="ptick" style="top:352px"></div>
<div class="t ax" style="left:1866px;top:347px">6300</div>
<div class="ptick" style="top:395px"></div>
<div class="t ax" style="left:1866px;top:390px">5700</div>
<div class="ptick" style="top:426px"></div>
<div class="t ax" style="left:1866px;top:421px">5300</div>
<div class="ptick" style="top:459px"></div>
<div class="t ax" style="left:1866px;top:454px">4900</div>
<div class="ptick" style="top:496px"></div>
<div class="t ax" style="left:1866px;top:491px">4500</div>
<div class="ptick" style="top:536px"></div>
<div class="t ax" style="left:1866px;top:531px">4100</div>
<div class="ptick" style="top:568px"></div>
<div class="t ax" style="left:1866px;top:563px">3800</div>
<div class="ptick" style="top:603px"></div>
<div class="t ax" style="left:1866px;top:598px">3500</div>
<div class="ptick" style="top:642px"></div>
<div class="t ax" style="left:1866px;top:637px">3200</div>
<div class="ptick" style="top:676px"></div>
<div class="t ax" style="left:1866px;top:671px">2950</div>
<div class="ptick" style="top:713px"></div>
<div class="t ax" style="left:1866px;top:708px">2710</div>
<div class="ptick" style="top:745px"></div>
<div class="t ax" style="left:1866px;top:740px">2510</div>
<div class="ptick" style="top:777px"></div>
<div class="t ax" style="left:1866px;top:772px">2330</div>
<div class="ptick" style="top:808px"></div>
<div class="t ax" style="left:1866px;top:803px">2170</div>
<div class="abs" style="left:1857px;top:273px;width:63px;height:18px;background:#fff"></div>
<div class="ptick" style="top:281px;background:#000"></div>
<div class="t ax" style="left:1866px;top:276px;color:#000">7430</div>
<div class="ptick" style="top:832px"></div>
<div class="t ax" style="left:1866px;top:827px">100.0000</div>
<div class="ptick" style="top:871px"></div>
<div class="t ax" style="left:1866px;top:866px">80.0000</div>
<div class="ptick" style="top:910px"></div>
<div class="t ax" style="left:1866px;top:905px">60.0000</div>
<div class="ptick" style="top:948px"></div>
<div class="t ax" style="left:1866px;top:943px">40.0000</div>
<div class="ptick" style="top:987px"></div>
<div class="t ax" style="left:1866px;top:982px">20.0000</div>
<div class="ttick" style="left:65px"></div>
<div class="tl" style="left:65px">May</div>
<div class="ttick" style="left:220px"></div>
<div class="tl" style="left:220px">Jul</div>
<div class="ttick" style="left:371px"></div>
<div class="tl" style="left:371px">Sep</div>
<div class="ttick" style="left:502px"></div>
<div class="tl" style="left:502px">Nov</div>
<div class="ttick" style="left:589px"></div>
<div class="tl" style="left:589px">Dec</div>
<div class="ttick" style="left:681px"></div>
<div class="tl" style="left:681px">2021</div>
<div class="ttick" style="left:770px"></div>
<div class="tl" style="left:770px">Feb</div>
<div class="ttick" style="left:921px"></div>
<div class="tl" style="left:921px">Apr</div>
<div class="ttick" style="left:1006px"></div>
<div class="tl" style="left:1006px">May</div>
<div class="ttick" style="left:1098px"></div>
<div class="tl" style="left:1098px">Jun</div>
<div class="ttick" style="left:1199px"></div>
<div class="tl" style="left:1199px">Oct</div>
<div class="ttick" style="left:1283px"></div>
<div class="tl" style="left:1283px">Nov</div>
<div class="ttick" style="left:1367px"></div>
<div class="tl" style="left:1367px">29</div>
<div class="ttick" style="left:1455px"></div>
<div class="tl" style="left:1455px">2022</div>
<div class="ttick" style="left:1551px"></div>
<div class="tl" style="left:1551px">Feb</div>
<div class="ttick" style="left:1636px"></div>
<div class="tl" style="left:1636px">5</div>
<div class="ttick" style="left:1719px"></div>
<div class="tl" style="left:1719px">Apr</div>
<div class="ttick" style="left:1807px"></div>
<div class="tl" style="left:1807px">May</div>
<!-- left toolbar -->
<div id="left" class="abs">
<div class="hsep" style="top:300px"></div>
<div class="hsep" style="top:385px"></div>
<div class="hsep" style="top:542px"></div>
<svg width="52" height="1080" viewBox="0 0 52 1080" style="left:0;top:0">
<g class="ic">
<!-- crosshair -->
<path d="M15 24.5H22.7M30.3 24.5H38M26.5 13V20.7M26.5 28.3V36" stroke="#2196f3" stroke-width="1.2"/>
<!-- trend line -->
<circle cx="34.5" cy="51.6" r="2.1"/><circle cx="17.4" cy="68.6" r="2.1"/><path d="M19 67L33 53.2"/>
<!-- pitchfork -->
<circle cx="17.4" cy="93.6" r="2.1"/><circle cx="17.4" cy="104.3" r="2.1"/><circle cx="28.6" cy="104.3" r="2.1"/>
<path d="M18.9 92.1L25.4 85.6M18.9 95.1L27.1 102.8M18.9 102.8L31.3 90.8M30.1 102.8L36.5 96.2"/>
<!-- brush -->
<path d="M14.5 140.4C17 137.5 18.5 135.5 19.6 132.8C20.5 130.5 22.5 129.4 24.3 129.4C27 129.4 29.3 131.8 29.3 134.6C29.3 138 26.8 140.4 23.5 140.4Z"/>
<path d="M39.3 124.3L34 130C33.2 130.9 32 130.9 31.2 130.1L28.9 127.8C28.3 127.2 28.3 126.4 28.9 125.8L30.6 124.3"/>
<!-- text -->
<path d="M19.9 161V159.4H33.1V161M26.5 159.4V176.4M24 176.4H29"/>
<!-- pattern -->
<circle cx="20.3" cy="195.4" r="2.1"/><circle cx="32.4" cy="196.3" r="2.1"/><circle cx="24.5" cy="202.5" r="2.1"/><circle cx="35.4" cy="209.7" r="2.1"/><circle cx="17.4" cy="212.8" r="2.1"/>
<path d="M19.9 197.5L17.8 210.7M21.5 197.2L23.4 200.7M23.2 204.2L18.7 211.1M26.2 201.2L30.7 197.6M33 198.3L34.8 207.7M26.3 203.7L33.6 208.5"/>
<!-- measure -->
<circle cx="16.4" cy="231.5" r="2.1"/><circle cx="16.4" cy="242.4" r="2.1"/><circle cx="36.8" cy="242.4" r="2.1"/><circle cx="16.4" cy="249.6" r="2.1"/>
<path d="M18.5 231.5H36.8M18.5 242.4H34.7M18.5 249.6H36.8M26.6 234.5V246.7"/>
<path d="M24.6 236.3L26.6 233.8L28.6 236.3ZM24.6 245L26.6 247.5L28.6 245Z" fill="#2a2e39"/>
<!-- back arrow -->
<path d="M26.6 270.3L19.6 277L26.6 283.6M20.5 277H33.5" stroke="#131722" stroke-width="3.6"/>
<!-- ruler -->
<path d="M33 313.2L38 318L19.2 336.8L14.3 332.2Z"/>
<path d="M30.2 316L32.2 318M27.4 318.8L29 320.4M24.6 321.6L26.6 323.6M21.8 324.4L23.4 326M19 327.2L21 329.2M16.6 329.9L18 331.3"/>
<!-- zoom -->
<circle cx="24" cy="359.4" r="8"/><path d="M29.8 365.2L33.8 368.6M20.5 359.4H27.5M24 355.9V362.9"/>
<!-- magnet -->
<path d="M18.2 418.5V407.8A7.8 7.8 0 0 1 33.8 407.8V418.5H28.5V407.8A2.5 2.5 0 0 0 23.4 407.8V418.5Z"/>
<path d="M18.2 414.6H23.4M28.5 414.6H33.8"/>
<!-- pencil lock -->
<path d="M15.3 450.4V446.2L27.5 434.4L31.6 438.5L19.8 450.4Z"/>
<path d="M15.8 445.8L19.9 450M25.6 436.2L29.7 440.4M18 447.8L28 438.4"/>
<rect x="27.5" y="449.6" width="8.3" height="6" rx="0.8"/><path d="M29.5 449.6V447.8A2 2 0 0 1 33.5 447.2"/>
<rect x="31.3" y="451.9" width="0.8" height="1.6" fill="#2a2e39"/>
<!-- lock -->
<rect x="18.2" y="479.2" width="15.6" height="12.2" rx="1.5"/><path d="M22.7 479.2V475.2A3.5 3.5 0 0 1 29.6 474.6"/>
<rect x="25.6" y="485" width="1" height="3" fill="#2a2e39"/>
<!-- eye -->
<path d="M16 518C19 513.2 22.5 510.8 26 510.8C29.5 510.8 33 513.2 35.9 518C33 522.6 29.5 525 26 525C22.5 525 19 522.6 16 518Z"/>
<circle cx="26" cy="518" r="2.7" fill="#131722"/>
<!-- trash -->
<path d="M19.2 559.8H32.1M23.4 558.5H28M20 561.5V575A1.6 1.6 0 0 0 21.6 576.6H29.9A1.6 1.6 0 0 0 31.5 575V561.5M22.6 563.5V573M25.8 563.5V573M29 563.5V573"/>
</g>
<!-- star button -->
<rect x="11" y="991" width="30" height="30" rx="3" fill="#2196f3"/>
<path d="M26 997.6L28.5 1003.2L34.5 1003.8L30 1007.8L31.3 1013.8L26 1010.7L20.7 1013.8L22 1007.8L17.5 1003.8L23.5 1003.2Z" fill="none" stroke="#fff" stroke-width="1" stroke-linejoin="round"/>
<!-- layers -->
<path d="M25.900 1031.900L34.800 1038.900L25.900 1045.200L16.900 1038.900ZM18.100 1043L25.900 1048.500L33.700 1043M18.100 1045.900L25.900 1051.500L33.700 1045.900" class="ic" stroke="#131722"/>
</svg>
</div>
<div id="ldiv" class="abs"></div>
<!-- collapse tab -->
<div class="abs" style="left:46.500px;top:995px;width:8px;height:26.500px;background:#fff;border:1px solid #e0e3eb;border-radius:4px"></div>
<svg width="8" height="26" viewBox="0 0 8 26" style="left:47px;top:996px"><path d="M5 10L3 13L5 16" fill="none" stroke="#b2b5be" stroke-width="0.8"/></svg>

<!-- top toolbar -->
<div id="top" class="abs"></div>
<div id="topb" class="abs"></div>
<div class="vsep" style="left:149px"></div><div class="vsep" style="left:234px"></div><div class="vsep" style="left:335px"></div>
<div class="vsep" style="left:443px"></div><div class="vsep" style="left:552px"></div><div class="vsep" style="left:615px"></div>
<div class="vsep" style="left:653px"></div><div class="vsep" style="left:927px"></div><div class="vsep" style="left:1059px"></div>
<div class="vsep" style="left:1097px"></div><div class="vsep" style="left:1764px"></div><div class="vsep" style="left:1803px"></div>
<div class="vsep" style="left:1841px"></div><div class="vsep" style="left:1879px"></div>
<div class="t tb" style="left:64px;color:#2196f3">D</div>
<div class="t tb" style="left:85.5px">W</div>
<div class="t tb" style="left:109.5px">M</div>
<div class="t tb" style="left:270px">Compare</div>
<div class="t tb" style="left:371px">Indicators</div>
<div class="t tb" style="left:479px">Templates</div>
<div class="sel" style="left:664px;width:252px"></div>
<div class="sel" style="left:937px;width:112px"></div>
<div class="t" dir="rtl" style="right:1013px;top:12.500px;font-size:11.5px;color:#131722;-webkit-text-stroke:0.3px">سود نقدی و افزایش سرمایه</div>
<div class="t" dir="rtl" style="right:880px;top:12.500px;font-size:11.5px;color:#131722;-webkit-text-stroke:0.3px">آخرین قیمت</div>
<svg width="1920" height="38" viewBox="0 0 1920 38" style="left:0;top:0">
<g class="ic">
<path d="M135 17.5L139 21L143 17.5M220 17.5L224 21L228 17.5"/>
<!-- candles icon -->
<path d="M160.5 13.5H165.5V25.5H160.5ZM163 9.5V13.5M163 25.5V28.5M169 15.5H173V22.5H169ZM171 12V15.5M171 22.5V25.5" stroke="#2196f3" stroke-width="1.1"/>
<!-- line icon -->
<path d="M188 21.5L191.5 18L194 20L198 17.5L200 18.5L202 16L207 12.5"/>
<!-- compare -->
<circle cx="253.5" cy="19" r="9.3"/><path d="M249 19H258M253.5 14.5V23.5"/>
<!-- indicators -->
<path d="M344 16.5C347 12.5 349 12.5 352 16C354.5 19 356.5 19 359 15.5L361.5 13M357.4 26.5H366M361.7 22.2V30.8"/>
<!-- templates -->
<path d="M454 13.5C456 9.5 458.5 9.5 461.5 13C464 15.8 466 15.8 468 13L471.5 9.5M454 19.5C456 15.5 458.5 15.5 461.5 19C464 21.8 466 21.8 468 19L471.5 15.5M465 26.5H473.5M469.2 22.3V30.7"/>
<path d="M454 28.3V28.8M456.5 26.5V28.8M459 23.5V28.8M461.5 25.5V28.8" stroke-width="1"/>
<!-- undo / redo -->
<path d="M567.5 14L563 18.5L567.5 23M563.5 18.5H571.5A4.5 4.5 0 0 1 576 23V24"/>
<path d="M599.5 14L604 18.5L599.5 23M603.5 18.5H595.5A4.5 4.5 0 0 0 591 23V24" stroke="#c1c4cd"/>
<!-- dropdown chevrons -->
<path d="M672 15L679 23L686 15M944 15L951 23L958 15" stroke-width="1.2"/>
<!-- eye -->
<path d="M1067.5 18.5C1071 13.8 1075 12 1078.8 12C1082.5 12 1086.5 13.8 1090 18.5C1086.5 23.2 1082.5 25 1078.8 25C1075 25 1071 23.2 1067.500 18.5Z"/><circle cx="1078.8" cy="18.5" r="3.4"/>
<!-- settings gear -->
<path d="M1782.76 9.13L1785.24 9.13L1785.73 11.75L1787.87 12.64L1790.07 11.13L1791.82 12.88L1790.31 15.08L1791.20 17.22L1793.82 17.71L1793.82 20.19L1791.20 20.68L1790.31 22.82L1791.82 25.02L1790.07 26.77L1787.87 25.26L1785.73 26.15L1785.24 28.77L1782.76 28.77L1782.27 26.15L1780.13 25.26L1777.93 26.77L1776.18 25.02L1777.69 22.82L1776.80 20.68L1774.18 20.19L1774.18 17.71L1776.80 17.22L1777.69 15.08L1776.18 12.88L1777.93 11.13L1780.13 12.64L1782.27 11.75Z"/><circle cx="1784" cy="18.95" r="2.5"/>
<!-- share -->
<circle cx="1830.4" cy="12.9" r="2.8"/><circle cx="1830.4" cy="25" r="2.8"/><circle cx="1819.7" cy="18.95" r="2.8"/><path d="M1822.2 17.600L1827.900 14.300M1822.200 20.300L1827.900 23.600"/>
<!-- notes -->
<path d="M1857.4 14.100L1870.300 13.300L1871.900 25.400L1858.600 26.600ZM1857.400 14.100L1855.400 13.400L1854.200 25.800L1858.600 26.600M1855.400 13.400L1865.500 14"/><circle cx="1867.900" cy="12.400" r="1.500" fill="#fff"/>
</g>
<!-- fullscreen -->
<g fill="#434651" stroke="none">
<path d="M626 9H631.500L629.600 10.900L632.700 14L631 15.700L627.900 12.600L626 14.500Z"/>
<path d="M644 9V14.500L642.100 12.600L639 15.700L637.300 14L640.400 10.900L638.500 9Z"/>
<path d="M626 27.500V22L627.900 23.900L631 20.800L632.700 22.500L629.600 25.600L631.500 27.500Z"/>
<path d="M644 27.500H638.500L640.400 25.600L637.300 22.500L639 20.800L642.100 23.900L644 22Z"/>
<!-- trash filled -->
<path d="M1894 11.300H1907V12.900H1894ZM1897.400 10H1903.800V11.300H1897.400ZM1895 14.100H1906.100V26H1895Z"/>
</g>
</svg>

<!-- legend -->
<div class="t" dir="rtl" style="left:67px;top:47.800px;font-size:16.300px;color:#131722;-webkit-text-stroke:0.350px">پالایش نفت بندرعباس</div>
<div class="abs" style="left:220px;top:51.500px;width:2px;height:2px;background:#c5c8d0"></div>
<div class="t" style="left:226.500px;top:47.200px;font-size:16px;color:#131722">D</div>
<div class="abs" style="left:243px;top:51.500px;width:2px;height:2px;background:#c5c8d0"></div>
<div class="t" dir="rtl" style="left:250.800px;top:48.300px;font-size:15.600px;color:#131722;-webkit-text-stroke:0.350px">بورس تهران</div>
<div class="t lg" style="left:338px"><span class="k">O</span>7430</div>
<div class="t lg" style="left:383px"><span class="k">H</span>7510</div>
<div class="t lg" style="left:427.5px"><span class="k">L</span>7410</div>
<div class="t lg" style="left:469px"><span class="k">C</span>7430</div>
<div class="t lg" style="left:513px">+10 (+0.13%)</div>
<div class="abs" style="left:64.500px;top:71px;width:20.500px;height:20.500px;border:1px solid #d1d4dc;border-radius:2px;background:#fff"></div>
<svg width="20" height="20" viewBox="0 0 20 20" style="left:65px;top:71px"><path d="M6.500 8.500L10 11.800L13.500 8.500" class="ic" stroke-width="1.3"/></svg>
<div class="t lg2" style="left:92px;top:74px">Volume</div>
<div class="t lg2" style="left:139px;top:74px;color:#50535e">20</div>
<div class="t lg2" style="left:162px;top:74px;color:#53b987">71.334M</div>
<div class="t lg2" style="left:219px;top:74px;color:#2196f3">114.145M</div>
<div class="abs" style="left:64.500px;top:830px;width:20.500px;height:20.500px;border:1px solid #d1d4dc;border-radius:2px;background:#fff"></div>
<svg width="20" height="20" viewBox="0 0 20 20" style="left:65px;top:830px"><path d="M6.500 8.500L10 11.800L13.500 8.500" class="ic" stroke-width="1.3"/></svg>
<div class="t lg2" style="left:92px;top:833px">RSI</div>
<div class="t lg2" style="left:117.5px;top:833px;color:#50535e">14</div>
<div class="t lg2" style="left:139.5px;top:833px;color:#800080">64.1882</div>

<!-- watermark -->
<div class="t" dir="rtl" id="wm1" style="left:877px;top:182px;font-size:19.5px;font-weight:bold;color:#000;-webkit-text-stroke:0.7px #000;transform-origin:0 0;transform:scaleX(0.861)">انجمن خبرگان بورس تهران</div>
<div class="t" id="wm2" style="left:877px;top:200px;font-size:25px;font-weight:bold;color:#000;-webkit-text-stroke:0.4px #000;transform-origin:0 0;transform:scaleX(1.107)">amoozesh-boors.com</div>

<!-- cloud logo -->
<div class="abs" style="left:64px;top:967.700px;width:33.200px;height:33.200px;border:1px solid #e6e6e6;border-radius:50%;background:#fff"></div>
<svg width="34" height="34" viewBox="0 0 34 34" style="left:64px;top:968px"><g fill="#35a2eb"><circle cx="8.600" cy="17.400" r="3.300"/><circle cx="14.500" cy="13.900" r="4.900"/><circle cx="21.900" cy="14.200" r="2.300"/><circle cx="24.500" cy="18.600" r="3.300"/><rect x="5.300" y="15.500" width="22.500" height="6.400" rx="3.200"/><rect x="10" y="13" width="13" height="6"/></g><path d="M5.500 19.800L13.800 13.600L19.300 19.700L24.300 13.800" fill="none" stroke="#fff" stroke-width="1.700" stroke-linejoin="round"/><circle cx="13.800" cy="13.600" r="1.500" fill="#fff"/><circle cx="19.300" cy="19.700" r="1.500" fill="#fff"/></svg>

<!-- bottom toolbar -->
<div class="t bt" style="left:72px">5y</div><div class="t bt" style="left:101px">1y</div><div class="t bt" style="left:129px">6m</div>
<div class="t bt" style="left:163px">1m</div><div class="t bt" style="left:196px">5d</div><div class="t bt" style="left:225px">1d</div>
<div class="abs" style="left:258px;top:1050px;width:1px;height:22px;background:#e0e3eb"></div>
<div class="t bt" style="left:274px;letter-spacing:0.25px">Go to...</div>
<div class="t bt" style="left:1721px;font-size:11.8px;top:1054.5px;font-weight:bold">۲۱:۳۱</div><div class="t bt" style="left:1754px">(UTC)</div>
<div class="abs" style="left:1805px;top:1050px;width:1px;height:22px;background:#e0e3eb"></div>
<div class="t bt" style="left:1821.5px">%</div>
<div class="t bt" style="left:1849px;color:#2196f3">log</div>
<div class="t bt" style="left:1882px;color:#2196f3">auto</div>
<!-- settings sun in axis corner -->
<svg width="30" height="26" viewBox="0 0 30 26" style="left:1874px;top:1015px"><g class="ic" stroke="#131722"><circle cx="14.500" cy="13.500" r="5"/><path d="M14.500 6.500V7.500M14.500 19.500V20.500M7.500 13.500H8.500M20.500 13.500H21.500M9.600 8.600L10.300 9.300M18.700 17.700L19.400 18.400M9.600 18.400L10.300 17.700M18.700 9.300L19.400 8.600"/></g></svg>

<!-- drawing favourites toolbar -->
<div class="abs" style="left:455px;top:1041px;width:638px;height:42px;background:#fff;border:1px solid #e0e3eb;border-radius:4px;box-shadow:0 1px 4px rgba(0,0,0,0.25)"></div>
<svg width="1920" height="1080" viewBox="0 0 1920 1080" style="left:0;top:0;pointer-events:none">
<rect x="469.5" y="1042" width="1" height="38" fill="#e0e3eb"/>
<rect x="508.5" y="1042" width="1" height="38" fill="#e0e3eb"/>
<rect x="547.5" y="1042" width="1" height="38" fill="#e0e3eb"/>
<rect x="586.5" y="1042" width="1" height="38" fill="#e0e3eb"/>
<rect x="625.5" y="1042" width="1" height="38" fill="#e0e3eb"/>
<rect x="664.5" y="1042" width="1" height="38" fill="#e0e3eb"/>
<rect x="703.5" y="1042" width="1" height="38" fill="#e0e3eb"/>
<rect x="742.5" y="1042" width="1" height="38" fill="#e0e3eb"/>
<rect x="781.5" y="1042" width="1" height="38" fill="#e0e3eb"/>
<rect x="820.5" y="1042" width="1" height="38" fill="#e0e3eb"/>
<rect x="859.5" y="1042" width="1" height="38" fill="#e0e3eb"/>
<rect x="898.5" y="1042" width="1" height="38" fill="#e0e3eb"/>
<rect x="937.5" y="1042" width="1" height="38" fill="#e0e3eb"/>
<rect x="976.5" y="1042" width="1" height="38" fill="#e0e3eb"/>
<rect x="1015.5" y="1042" width="1" height="38" fill="#e0e3eb"/>
<rect x="1054.5" y="1042" width="1" height="38" fill="#e0e3eb"/>
<rect x="458.7" y="1054.0" width="1.6" height="1.6" fill="#d1d4dc"/>
<rect x="458.7" y="1058.7" width="1.6" height="1.6" fill="#d1d4dc"/>
<rect x="458.7" y="1063.2" width="1.6" height="1.6" fill="#d1d4dc"/>
<rect x="458.7" y="1067.8" width="1.6" height="1.6" fill="#d1d4dc"/>
<rect x="463.2" y="1054.0" width="1.6" height="1.6" fill="#d1d4dc"/>
<rect x="463.2" y="1058.7" width="1.6" height="1.6" fill="#d1d4dc"/>
<rect x="463.2" y="1063.2" width="1.6" height="1.6" fill="#d1d4dc"/>
<rect x="463.2" y="1067.8" width="1.6" height="1.6" fill="#d1d4dc"/>
<g class="ic" stroke-width="1.1">
<path d="M478 1050H499.7M478 1056.6H497.6M478 1062.4H499.7M480.5 1068.4H499.7"/>
<circle cx="499.7" cy="1056.6" r="2.1" fill="#fff"/>
<circle cx="478.4" cy="1068.4" r="2.1" fill="#fff"/>
<path d="M519.5 1051.6H536.5V1068.4H519.5Z"/>
<circle cx="519.5" cy="1051.6" r="2.1" fill="#fff"/>
<circle cx="536.5" cy="1051.6" r="2.1" fill="#fff"/>
<circle cx="519.5" cy="1068.4" r="2.1" fill="#fff"/>
<circle cx="536.5" cy="1068.4" r="2.1" fill="#fff"/>
<path d="M571.6 1050.7L557.4 1055.7M557.4 1062.4H579M557.4 1066.4H579M557.4 1070.4H579"/>
<circle cx="571.6" cy="1050.7" r="2.1" fill="#fff"/>
<circle cx="557.4" cy="1055.7" r="2.1" fill="#fff"/>
<circle cx="557.4" cy="1062.4" r="2.1" fill="#fff"/>
<path d="M597.6 1068.4L614.4 1051.6"/>
<circle cx="597.6" cy="1068.4" r="2.1" fill="#fff"/>
<circle cx="614.4" cy="1051.6" r="2.1" fill="#fff"/>
<path d="M639.2 1053V1051.6H652V1053M645.6 1051.6V1068.4M643 1068.4H648.2"/>
<path d="M676.8 1068.4V1050.7H694.5V1063.1H680L676.8 1068.4"/>
<circle cx="676.8" cy="1068.4" r="2.1" fill="#fff"/>
<path d="M713.2 1060.5H734"/>
<circle cx="723.3" cy="1060.5" r="2.1" fill="#fff"/>
<path d="M752 1060.5H773M762.4 1049.5V1070.7"/>
<circle cx="762.4" cy="1060.5" r="2.1" fill="#fff"/>
<path d="M806.6 1052.5L793.3 1065.4M799.5 1070.7L811.9 1058.3"/>
<circle cx="806.6" cy="1052.5" r="2.1" fill="#fff"/>
<circle cx="793.3" cy="1065.4" r="2.1" fill="#fff"/>
<circle cx="805.7" cy="1064.5" r="2.1" fill="#fff"/>
<path d="M832.6 1052.5V1068.4H847.6Z"/>
<circle cx="832.6" cy="1052.5" r="2.1" fill="#fff"/>
<circle cx="832.6" cy="1068.4" r="2.1" fill="#fff"/>
<circle cx="847.6" cy="1068.4" r="2.1" fill="#fff"/>
<path d="M869.4 1051.6H889.8M869.4 1062.4H889.8M869.4 1069.3H889.8M879.7 1054.5V1066.8"/>
<path d="M877.700 1056.300L879.700 1053.600L881.700 1056.300ZM877.700 1065L879.700 1067.700L881.700 1065Z" fill="#2a2e39"/>
<circle cx="869.4" cy="1051.6" r="2.1" fill="#fff"/>
<circle cx="869.4" cy="1062.4" r="2.1" fill="#fff"/>
<circle cx="889.8" cy="1062.4" r="2.1" fill="#fff"/>
<circle cx="869.4" cy="1069.3" r="2.1" fill="#fff"/>
<path d="M908.7 1050.700H927.500V1069.300H908.7ZM911.500 1060.500H924.500M917.600 1054V1067.500"/>
<path d="M923.700 1058.500L926.200 1060.500L923.700 1062.500ZM915.600 1055.200L917.600 1052.700L919.600 1055.200Z" fill="#2a2e39"/>
<circle cx="927.5" cy="1050.7" r="2.1" fill="#fff"/>
<circle cx="908.7" cy="1069.3" r="2.1" fill="#fff"/>
<path d="M948.8 1068.4L965.4 1051.6"/>
<path d="M963.500 1053.500L956.500 1056L961 1060.500Z" fill="#2a2e39"/>
<circle cx="948.8" cy="1068.4" r="2.1" fill="#fff"/>
<circle cx="965.4" cy="1051.6" r="2.1" fill="#fff"/>
<path d="M988.4 1060.500H1006.700"/>
<circle cx="988.4" cy="1060.5" r="2.1" fill="#fff"/>
<path d="M1024.4 1065.4L1031.5 1058.3L1038.5 1065.4L1045.3 1058.3"/>
<circle cx="1024.4" cy="1065.4" r="2.1" fill="#fff"/>
<circle cx="1031.5" cy="1058.3" r="2.1" fill="#fff"/>
<circle cx="1038.5" cy="1065.4" r="2.1" fill="#fff"/>
<circle cx="1045.3" cy="1058.3" r="2.1" fill="#fff"/>
<path d="M1063.4 1065.4L1070.5 1058.3L1077.5 1065.4L1084.3 1058.3"/>
<circle cx="1063.4" cy="1065.4" r="2.1" fill="#fff"/>
<circle cx="1070.5" cy="1058.3" r="2.1" fill="#fff"/>
<circle cx="1077.5" cy="1065.4" r="2.1" fill="#fff"/>
<circle cx="1084.3" cy="1058.3" r="2.1" fill="#fff"/>
</g>
</svg>
<div class="t" style="left:1027.5px;top:1046px;width:8px;text-align:center;font-size:8px;font-weight:bold;color:#2a2e39">1</div>
<div class="t" style="left:1042px;top:1046px;width:8px;text-align:center;font-size:8px;font-weight:bold;color:#2a2e39">5</div>
<div class="t" style="left:1066.5px;top:1046px;width:8px;text-align:center;font-size:8px;font-weight:bold;color:#2a2e39">A</div>
<div class="t" style="left:1081px;top:1046px;width:8px;text-align:center;font-size:8px;font-weight:bold;color:#2a2e39">C</div>

</body>
</html>
